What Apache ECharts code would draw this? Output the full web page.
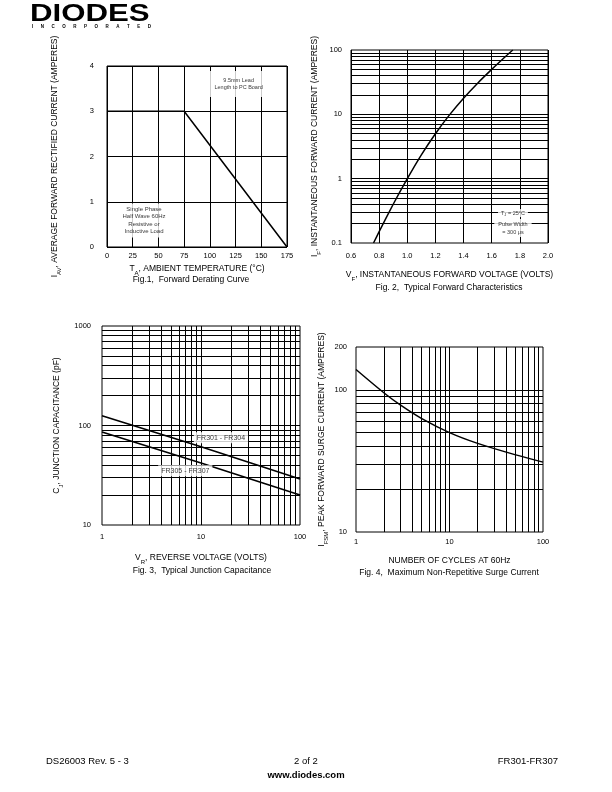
<!DOCTYPE html>
<html><head><meta charset="utf-8">
<script src="https://cdn.jsdelivr.net/npm/echarts@6/dist/echarts.min.js"></script>
<style>html,body{margin:0;padding:0;background:#fff}#c{width:612px;height:792px}</style>
</head><body><div id="c"></div>
<script>
// ---------- Fig.1 Forward Derating Curve ----------
const fig1Temp = [0, 75, 175];
const fig1Current = [3, 3, 0];
// ---------- Fig.2 Typical Forward Characteristics ----------
const fig2Voltage = [0.76, 0.8, 0.9, 1.0, 1.1, 1.2, 1.3, 1.4, 1.5, 1.6, 1.7, 1.75];
const fig2Current = [0.1, 0.15, 0.4, 1.0, 2.35, 5.0, 9.8, 17.8, 30.5, 50, 80, 100];
const fig2GridY = [0.2,0.3,0.4,0.5,0.6,0.7,0.8,0.9,1,2,3,4,5,6,7,8,9,10,20,30,40,50,60,70,80,90];
// ---------- Fig.3 Typical Junction Capacitance ----------
const fig3Voltage = [1, 10, 100];
const fig3FR301_304 = [125, 61, 29];
const fig3FR305_307 = [86, 42, 20];
const fig3GridX = [2,3,4,5,6,7,8,9,10,20,30,40,50,60,70,80,90];
const fig3GridY = [20,30,40,50,60,70,80,90,100,200,300,400,500,600,700,800,900];
// ---------- Fig.4 Maximum Non-Repetitive Surge Current ----------
const fig4Cycles = [1, 2, 3, 5, 10, 20, 50, 100];
const fig4Current = [139, 95, 78, 63, 50, 42, 35, 31];
const fig4GridX = [2,3,4,5,6,7,8,9,10,20,30,40,50,60,70,80,90];
const fig4GridY = [20,30,40,50,60,70,80,90,100];

const FONT = 'Liberation Sans, Arial, Helvetica, sans-serif';
const zip = (a, b) => a.map((v, i) => [v, b[i]]);

const rich = {
  m: {fontSize: 8.5, lineHeight: 14, fontFamily: FONT, color: '#000'},
  s: {fontSize: 6, lineHeight: 6, verticalAlign: 'bottom', fontFamily: FONT, color: '#000'}
};
const nameStyle = {fontFamily: FONT, fontSize: 8.5, color: '#000', rich: rich};
const tickLbl = (margin, extra) => Object.assign({fontFamily: FONT, fontSize: 7.5, color: '#000', margin: margin}, extra || {});
const plainNum = v => String(+v.toPrecision(6));
const blackSplit = {show: true, lineStyle: {color: '#000', width: 1}};

function gridLines(xs, ys) {
  const d = [];
  (xs || []).forEach(v => d.push({xAxis: v}));
  (ys || []).forEach(v => d.push({yAxis: v}));
  return {
    silent: true, symbol: ['none', 'none'], label: {show: false}, animation: false,
    lineStyle: {color: '#000', width: 1, type: 'solid'}, emphasis: {disabled: true},
    data: d
  };
}
function note(xi, yi, pt, text, fs, lh, pad, richObj) {
  return {
    type: 'scatter', xAxisIndex: xi, yAxisIndex: yi, data: [pt], symbolSize: 0, z: 10, silent: true,
    label: {show: true, position: 'inside', formatter: text, fontFamily: FONT, fontSize: fs, lineHeight: lh,
      color: '#000', backgroundColor: '#fff', padding: pad, rich: richObj}
  };
}
const lineBase = {type: 'line', symbol: 'none', silent: true, z: 5, animation: false};
const center = {align: 'center', verticalAlign: 'middle', textAlign: 'center', textVerticalAlign: 'middle'};
function txt(x, y, text, extra) {
  return {type: 'text', x: x, y: y, style: Object.assign({text: text, fontFamily: FONT, fontSize: 8.5, fill: '#000'}, center, extra || {})};
}

const option = {
  animation: false,
  backgroundColor: '#fff',
  grid: [
    {left: 107, top: 66, width: 180, height: 181, show: true, borderColor: '#000', borderWidth: 1},
    {left: 351, top: 50, width: 197, height: 193, show: true, borderColor: '#000', borderWidth: 1},
    {left: 102, top: 326, width: 198, height: 199, show: true, borderColor: '#000', borderWidth: 1},
    {left: 356, top: 347, width: 187, height: 185, show: true, borderColor: '#000', borderWidth: 1}
  ],
  xAxis: [
    {gridIndex: 0, type: 'value', min: 0, max: 175, interval: 25, axisLine: {show: false}, axisTick: {show: false},
     splitLine: blackSplit, axisLabel: tickLbl(5),
     name: '{m|T}{s|A}{m|, AMBIENT TEMPERATURE (°C)}', nameLocation: 'middle', nameGap: 15, nameTextStyle: nameStyle},
    {gridIndex: 1, type: 'value', min: 0.6, max: 2.0, interval: 0.2, axisLine: {show: false}, axisTick: {show: false},
     splitLine: blackSplit, axisLabel: tickLbl(9, {formatter: v => v.toFixed(1)}),
     name: '{m|V}{s|F}{m|, INSTANTANEOUS FORWARD VOLTAGE (VOLTS)}', nameLocation: 'middle', nameGap: 25, nameTextStyle: nameStyle},
    {gridIndex: 2, type: 'log', logBase: 10, min: 1, max: 100, axisLine: {show: false}, axisTick: {show: false},
     splitLine: {show: false}, axisLabel: tickLbl(8, {formatter: plainNum}),
     name: '{m|V}{s|R}{m|, REVERSE VOLTAGE (VOLTS)}', nameLocation: 'middle', nameGap: 26, nameTextStyle: nameStyle},
    {gridIndex: 3, type: 'log', logBase: 10, min: 1, max: 100, axisLine: {show: false}, axisTick: {show: false},
     splitLine: {show: false}, axisLabel: tickLbl(6, {formatter: plainNum}),
     name: 'NUMBER OF CYCLES AT 60Hz', nameLocation: 'middle', nameGap: 24, nameTextStyle: nameStyle}
  ],
  yAxis: [
    {gridIndex: 0, type: 'value', min: 0, max: 4, interval: 1, axisLine: {show: false}, axisTick: {show: false},
     splitLine: blackSplit, axisLabel: tickLbl(13),
     name: '{m|I}{s|AV}{m|, AVERAGE FORWARD RECTIFIED CURRENT (AMPERES)}', nameLocation: 'middle', nameGap: 45, nameTextStyle: nameStyle},
    {gridIndex: 1, type: 'log', logBase: 10, min: 0.1, max: 100, axisLine: {show: false}, axisTick: {show: false},
     splitLine: {show: false}, axisLabel: tickLbl(9, {formatter: plainNum}),
     name: '{m|I}{s|F}{m|, INSTANTANEOUS FORWARD CURRENT (AMPERES)}', nameLocation: 'middle', nameGap: 29, nameTextStyle: nameStyle},
    {gridIndex: 2, type: 'log', logBase: 10, min: 10, max: 1000, axisLine: {show: false}, axisTick: {show: false},
     splitLine: {show: false}, axisLabel: tickLbl(11, {formatter: plainNum}),
     name: '{m|C}{s|J}{m|, JUNCTION CAPACITANCE (pF)}', nameLocation: 'middle', nameGap: 38, nameTextStyle: nameStyle},
    {gridIndex: 3, type: 'log', logBase: 10, min: 10, max: 200, axisLine: {show: false}, axisTick: {show: false},
     splitLine: {show: false}, axisLabel: tickLbl(9, {showMaxLabel: true, formatter: plainNum}),
     name: '{m|I}{s|FSM}{m|, PEAK FORWARD SURGE CURRENT (AMPERES)}', nameLocation: 'middle', nameGap: 27, nameTextStyle: nameStyle}
  ],
  series: [
    // Fig 1
    Object.assign({}, lineBase, {xAxisIndex: 0, yAxisIndex: 0, data: zip(fig1Temp, fig1Current),
      lineStyle: {color: '#000', width: 1.5}}),
    note(0, 0, [128, 3.6], '9.5mm Lead\nLength to PC Board', 5.5, 7, [6, 6]),
    note(0, 0, [36, 0.585], 'Single Phase\nHalf Wave 60Hz\nResistive or\nInductive Load', 6, 7.5, [2, 5]),
    // Fig 2
    Object.assign({}, lineBase, {xAxisIndex: 1, yAxisIndex: 1, data: zip(fig2Voltage, fig2Current), smooth: 0.2,
      lineStyle: {color: '#000', width: 1.5}, markLine: gridLines([], fig2GridY)}),
    note(1, 1, [1.751, 0.292], '{m|T}{s|J}{m| = 25°C}', 5.5, 7, [0, 3],
      {m: {fontSize: 5.5, fontFamily: FONT, color: '#000', lineHeight: 8}, s: {fontSize: 4, lineHeight: 4, verticalAlign: 'bottom', fontFamily: FONT, color: '#000'}}),
    note(1, 1, [1.751, 0.171], 'Pulse Width\n= 300 μs', 5.5, 8, [1, 4]),
    // Fig 3
    Object.assign({}, lineBase, {xAxisIndex: 2, yAxisIndex: 2, data: zip(fig3Voltage, fig3FR301_304),
      lineStyle: {color: '#000', width: 1.6}, markLine: gridLines(fig3GridX, fig3GridY)}),
    Object.assign({}, lineBase, {xAxisIndex: 2, yAxisIndex: 2, data: zip(fig3Voltage, fig3FR305_307),
      lineStyle: {color: '#000', width: 1.6}}),
    note(2, 2, [15.9, 75.4], 'FR301 - FR304', 7, 9, [1, 3]),
    note(2, 2, [6.94, 35.1], 'FR305 - FR307', 7, 9, [1, 3]),
    // Fig 4
    Object.assign({}, lineBase, {xAxisIndex: 3, yAxisIndex: 3, data: zip(fig4Cycles, fig4Current), smooth: 0.3,
      lineStyle: {color: '#000', width: 1.5}, markLine: gridLines(fig4GridX, fig4GridY)})
  ],
  graphic: [
    {type: 'text', x: 30, y: 2, scaleX: 1.3, style: {text: 'DIODES', fontFamily: FONT, fontSize: 24, fontWeight: 'bold', fill: '#000'}},
    {type: 'text', x: 32, y: 24, style: {text: 'I      N      C      O      R      P      O      R      A      T      E      D', fontFamily: FONT, fontSize: 4.5, fontWeight: 'bold', fill: '#000'}},
    txt(191, 280, 'Fig.1,  Forward Derating Curve'),
    txt(449, 288, 'Fig. 2,  Typical Forward Characteristics'),
    txt(202, 571, 'Fig. 3,  Typical Junction Capacitance'),
    txt(449, 573, 'Fig. 4,  Maximum Non-Repetitive Surge Current'),
    txt(46, 761, 'DS26003 Rev. 5 - 3', {fontSize: 9.5, align: 'left', textAlign: 'left'}),
    txt(306, 761, '2 of 2', {fontSize: 9.5}),
    txt(306, 775, 'www.diodes.com', {fontSize: 9.5, fontWeight: 'bold'}),
    txt(558, 761, 'FR301-FR307', {fontSize: 9.5, align: 'right', textAlign: 'right'})
  ]
};
const chart = echarts.init(document.getElementById('c'), null, {renderer: 'canvas'});
chart.setOption(option);
</script></body></html>
